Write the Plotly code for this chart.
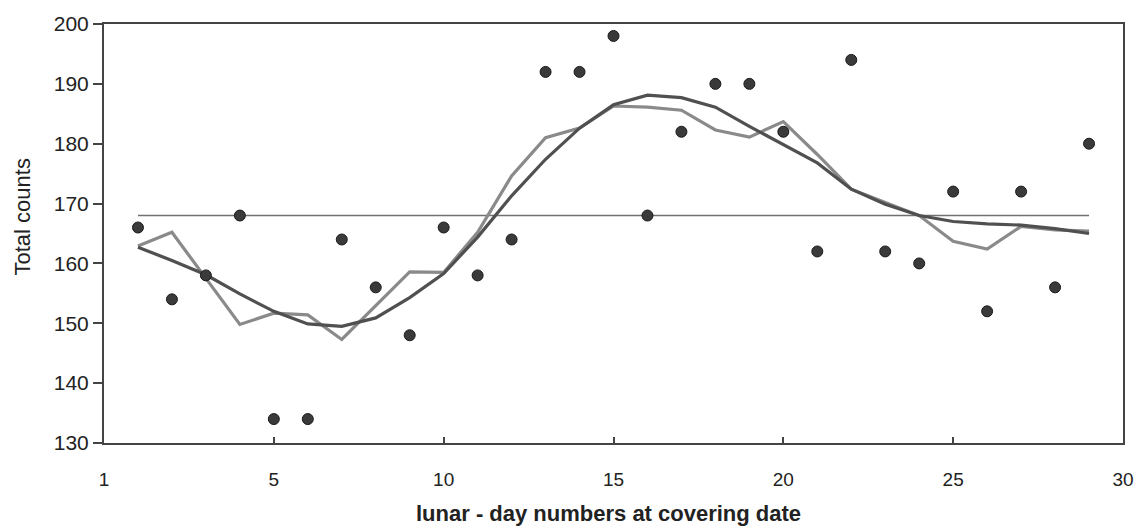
import plotly.graph_objects as go

days = list(range(1, 30))
total_counts = [166, 154, 158, 168, 134, 134, 164, 156, 148, 166,
                158, 164, 192, 192, 198, 168, 182, 190, 190, 182,
                162, 194, 162, 160, 172, 152, 172, 156, 180]
running_curve = [162.9, 165.2, 157.5, 149.8, 151.7, 151.4, 147.3, 153.0, 158.6, 158.5,
                 165.2, 174.6, 181.0, 182.6, 186.3, 186.1, 185.6, 182.3, 181.1, 183.7,
                 178.2, 172.4, 170.2, 168.0, 163.7, 162.4, 166.2, 165.6, 165.4]
smooth_curve = [162.7, 160.5, 158.1, 154.9, 152.0, 149.9, 149.5, 150.9, 154.3, 158.3,
                164.4, 171.3, 177.4, 182.6, 186.5, 188.1, 187.7, 186.1, 182.9, 179.9,
                176.8, 172.4, 169.9, 168.0, 167.0, 166.6, 166.4, 165.8, 165.0]
mean_x = [1, 29]
mean_y = [168, 168]

x_tickvals = [0, 5, 10, 15, 20, 25, 30]
x_ticktext = ["1", "5", "10", "15", "20", "25", "30"]
y_tickvals = [130, 140, 150, 160, 170, 180, 190, 200]

fig = go.Figure()
fig.add_trace(go.Scatter(x=mean_x, y=mean_y, mode="lines",
                         line=dict(color="#707070", width=1.5), showlegend=False))
fig.add_trace(go.Scatter(x=days, y=running_curve, mode="lines",
                         line=dict(color="#8a8a8a", width=3.2), showlegend=False))
fig.add_trace(go.Scatter(x=days, y=smooth_curve, mode="lines",
                         line=dict(color="#505050", width=3.2), showlegend=False))
fig.add_trace(go.Scatter(x=days, y=total_counts, mode="markers",
                         marker=dict(color="#3a3a3a", size=11,
                                     line=dict(color="#1a1a1a", width=1)),
                         showlegend=False))

fig.update_layout(
    width=1146, height=528,
    margin=dict(l=104, r=18, t=20, b=85),
    paper_bgcolor="white", plot_bgcolor="white",
    font=dict(family="Liberation Sans, Arial, sans-serif", color="#222222"),
    xaxis=dict(range=[0, 30], tickvals=x_tickvals, ticktext=x_ticktext,
               showgrid=False, zeroline=False, showline=True, mirror=True,
               linecolor="#444444", linewidth=2,
               ticks="inside", ticklen=6, tickwidth=1.5, tickcolor="#444444",
               tickfont=dict(size=19, color="#222222"), ticklabelstandoff=18),
    yaxis=dict(range=[130, 200], tickvals=y_tickvals,
               showgrid=False, zeroline=False, showline=True, mirror=True,
               linecolor="#444444", linewidth=2,
               ticks="outside", ticklen=9, tickwidth=1.5, tickcolor="#444444",
               tickfont=dict(size=21, color="#222222")),
    annotations=[
        dict(text="<b>lunar - day numbers at covering date</b>", xref="paper", yref="paper",
             x=0.495, y=0, yshift=-70, yanchor="middle", xanchor="center", showarrow=False,
             font=dict(size=22, color="#222222")),
        dict(text="Total counts", xref="paper", yref="paper", textangle=-90,
             x=0, xshift=-82, y=0.5, yshift=16, xanchor="center", yanchor="middle",
             showarrow=False, font=dict(size=22, color="#222222")),
    ],
)

fig.write_html("out.html", config={"displayModeBar": False},
               post_script="document.body.style.margin='0';")
